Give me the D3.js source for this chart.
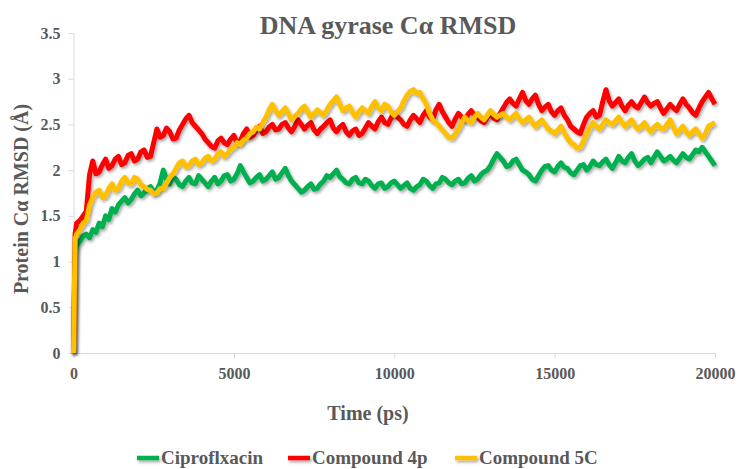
<!DOCTYPE html>
<html>
<head>
<meta charset="utf-8">
<script src="https://cdn.jsdelivr.net/npm/d3@7"></script>
<style>
  body { margin: 0; background: #fff; }
  svg { display: block; }
  .axis text { font-family: "Liberation Serif", "Times New Roman", serif; font-weight: bold; font-size: 16px; fill: #595959; }
  .axis path, .axis line { stroke: #d9d9d9; }
  .lbl { font-family: "Liberation Serif", "Times New Roman", serif; font-weight: bold; fill: #595959; }
</style>
</head>
<body>
<div id="chart"></div>
<script>
// Tempos (ps): 0, 50 e depois a cada 100 ps até 20000
const times = [0, 50, ...d3.range(100, 20001, 100)];

// RMSD (Å)
const cipro = [
  0, 1.10,
  1.18, 1.22, 1.28, 1.30, 1.26, 1.35, 1.32, 1.42, 1.38, 1.50,
  1.46, 1.58, 1.54, 1.62, 1.66, 1.70, 1.64, 1.68, 1.74, 1.78,
  1.72, 1.75, 1.80, 1.82, 1.76, 1.78, 1.86, 2.00, 1.90, 1.85,
  1.92, 1.90, 1.84, 1.82, 1.88, 1.92, 1.86, 1.85, 1.94, 1.90,
  1.86, 1.82, 1.88, 1.92, 1.85, 1.88, 1.94, 1.95, 1.88, 1.90,
  1.96, 2.05, 1.98, 1.92, 1.86, 1.88, 1.92, 1.95, 1.88, 1.90,
  1.94, 1.98, 1.90, 1.92, 1.97, 2.02, 1.94, 1.88, 1.84, 1.80,
  1.76, 1.78, 1.82, 1.85, 1.79, 1.80, 1.85, 1.88, 1.94, 1.92,
  1.96, 2.00, 1.93, 1.90, 1.86, 1.85, 1.90, 1.92, 1.86, 1.85,
  1.90, 1.88, 1.83, 1.80, 1.85, 1.86, 1.80, 1.82, 1.86, 1.88,
  1.84, 1.80, 1.83, 1.86, 1.80, 1.78, 1.82, 1.84, 1.90, 1.88,
  1.83, 1.80, 1.85, 1.86, 1.92, 1.90, 1.86, 1.84, 1.88, 1.90,
  1.85, 1.86, 1.91, 1.94, 1.88, 1.90, 1.95, 1.98, 2.00, 2.05,
  2.12, 2.18, 2.14, 2.10, 2.04, 2.05, 2.10, 2.12, 2.06, 2.00,
  1.98, 1.95, 1.90, 1.88, 1.94, 2.00, 2.04, 2.05, 2.00, 1.98,
  2.04, 2.08, 2.03, 2.02, 1.97, 1.95, 2.00, 2.05, 2.06, 2.00,
  2.04, 2.10, 2.06, 2.05, 2.09, 2.12, 2.06, 2.02, 2.08, 2.15,
  2.10, 2.08, 2.14, 2.18, 2.10, 2.05, 2.08, 2.12, 2.14, 2.08,
  2.14, 2.20, 2.15, 2.10, 2.12, 2.15, 2.11, 2.08, 2.13, 2.18,
  2.14, 2.12, 2.17, 2.22, 2.20, 2.25, 2.20, 2.15, 2.10, 2.05
];

const comp4p = [
  0, 1.30,
  1.42, 1.45, 1.50, 1.55, 1.95, 2.10, 1.96, 1.98, 2.06, 2.12,
  2.02, 2.05, 2.12, 2.15, 2.06, 2.08, 2.16, 2.18, 2.10, 2.12,
  2.20, 2.22, 2.14, 2.15, 2.30, 2.45, 2.36, 2.38, 2.46, 2.42,
  2.34, 2.35, 2.44, 2.50, 2.56, 2.60, 2.52, 2.48, 2.44, 2.40,
  2.34, 2.30, 2.26, 2.24, 2.32, 2.35, 2.30, 2.28, 2.34, 2.38,
  2.30, 2.32, 2.40, 2.45, 2.36, 2.38, 2.44, 2.48, 2.40, 2.42,
  2.47, 2.50, 2.44, 2.45, 2.50, 2.52, 2.46, 2.42, 2.48, 2.55,
  2.50, 2.45, 2.49, 2.52, 2.44, 2.40, 2.45, 2.48, 2.52, 2.55,
  2.46, 2.42, 2.47, 2.50, 2.42, 2.38, 2.43, 2.45, 2.38, 2.40,
  2.46, 2.52, 2.48, 2.45, 2.53, 2.58, 2.52, 2.50, 2.57, 2.62,
  2.58, 2.55, 2.50, 2.48, 2.55, 2.60, 2.56, 2.52, 2.60, 2.65,
  2.58, 2.55, 2.66, 2.72, 2.64, 2.58, 2.52, 2.48, 2.56, 2.62,
  2.58, 2.55, 2.61, 2.65, 2.60, 2.58, 2.54, 2.52, 2.58, 2.62,
  2.57, 2.55, 2.62, 2.68, 2.74, 2.78, 2.73, 2.70, 2.78, 2.85,
  2.76, 2.72, 2.78, 2.82, 2.72, 2.65, 2.69, 2.72, 2.64, 2.60,
  2.65, 2.68, 2.60, 2.55, 2.48, 2.45, 2.42, 2.40, 2.50, 2.58,
  2.62, 2.65, 2.58, 2.60, 2.75, 2.88, 2.76, 2.70, 2.74, 2.78,
  2.70, 2.65, 2.71, 2.75, 2.70, 2.68, 2.74, 2.80, 2.74, 2.70,
  2.73, 2.75, 2.68, 2.62, 2.67, 2.72, 2.68, 2.65, 2.72, 2.78,
  2.72, 2.68, 2.63, 2.60, 2.68, 2.75, 2.80, 2.85, 2.78, 2.72
];

const comp5c = [
  0, 1.25,
  1.30, 1.35, 1.42, 1.45, 1.62, 1.70, 1.76, 1.78, 1.70, 1.72,
  1.80, 1.85, 1.78, 1.80, 1.88, 1.92, 1.86, 1.85, 1.92, 1.90,
  1.84, 1.82, 1.79, 1.78, 1.74, 1.75, 1.80, 1.80, 1.86, 1.92,
  1.96, 2.02, 2.08, 2.10, 2.04, 2.05, 2.10, 2.12, 2.06, 2.08,
  2.13, 2.15, 2.10, 2.12, 2.18, 2.20, 2.15, 2.18, 2.23, 2.25,
  2.30, 2.28, 2.33, 2.35, 2.40, 2.42, 2.47, 2.45, 2.52, 2.58,
  2.66, 2.72, 2.65, 2.60, 2.64, 2.68, 2.62, 2.55, 2.59, 2.62,
  2.67, 2.70, 2.64, 2.58, 2.62, 2.66, 2.63, 2.60, 2.66, 2.72,
  2.76, 2.80, 2.72, 2.65, 2.68, 2.70, 2.63, 2.58, 2.64, 2.68,
  2.65, 2.62, 2.70, 2.75, 2.68, 2.65, 2.72, 2.70, 2.64, 2.60,
  2.64, 2.68, 2.76, 2.82, 2.86, 2.88, 2.84, 2.85, 2.78, 2.72,
  2.62, 2.55, 2.52, 2.48, 2.44, 2.40, 2.36, 2.35, 2.40, 2.45,
  2.52, 2.58, 2.54, 2.52, 2.58, 2.62, 2.58, 2.55, 2.60, 2.65,
  2.61, 2.58, 2.60, 2.62, 2.58, 2.55, 2.59, 2.62, 2.56, 2.52,
  2.55, 2.58, 2.52, 2.48, 2.52, 2.55, 2.50, 2.45, 2.43, 2.40,
  2.44, 2.48, 2.41, 2.35, 2.30, 2.28, 2.24, 2.25, 2.32, 2.40,
  2.47, 2.52, 2.48, 2.45, 2.50, 2.55, 2.52, 2.50, 2.54, 2.58,
  2.52, 2.48, 2.52, 2.55, 2.49, 2.45, 2.48, 2.52, 2.46, 2.42,
  2.47, 2.50, 2.46, 2.45, 2.50, 2.55, 2.47, 2.40, 2.44, 2.48,
  2.42, 2.38, 2.42, 2.45, 2.40, 2.35, 2.40, 2.48, 2.50, 2.52
];

const seriesNames = ["Ciproflxacin", "Compound 4p", "Compound 5C"];
const seriesColors = ["#00b050", "#ff0000", "#ffc000"];
const xTicks = [0, 5000, 10000, 15000, 20000];
const yTicks = [0, 0.5, 1, 1.5, 2, 2.5, 3, 3.5];
const yTickLabels = ["0", "0.5", "1", "1.5", "2", "2.5", "3", "3.5"];

const width = 740, height = 469;

const svg = d3.select("#chart").append("svg")
    .attr("width", width)
    .attr("height", height);

svg.append("rect").attr("width", width).attr("height", height).attr("fill", "#fff");

// Sombra das linhas (estilo Excel)
const defs = svg.append("defs");
defs.append("filter")
    .attr("id", "shadow")
    .attr("filterUnits", "userSpaceOnUse")
    .attr("x", 0).attr("y", 0)
    .attr("width", width).attr("height", height)
  .append("feDropShadow")
    .attr("dx", 1.5).attr("dy", 2)
    .attr("stdDeviation", 1.4)
    .attr("flood-color", "#000")
    .attr("flood-opacity", 0.35);

const x = d3.scaleLinear().domain([0, 20000]).range([73.5, 715]);
const y = d3.scaleLinear().domain([0, 3.5]).range([353, 33]);

// Eixo X
svg.append("g")
    .attr("class", "axis")
    .attr("transform", `translate(0,${y(0)})`)
    .call(d3.axisBottom(x).tickValues(xTicks).tickFormat(d => d).tickSize(5).tickSizeOuter(0).tickPadding(10));

// Eixo Y
svg.append("g")
    .attr("class", "axis")
    .attr("transform", `translate(${x(0)},0)`)
    .call(d3.axisLeft(y).tickValues(yTicks).tickFormat((d, i) => yTickLabels[i]).tickSize(5).tickSizeOuter(0).tickPadding(8))
    .selectAll("text").attr("dy", "0.32em");

// Séries
const allSeries = [cipro, comp4p, comp5c];
const line = d3.line()
    .x((d, i) => x(times[i]))
    .y(d => y(d));

allSeries.forEach((vals, k) => {
    svg.append("path")
        .datum(vals)
        .attr("fill", "none")
        .attr("stroke", seriesColors[k])
        .attr("stroke-width", 5)
        .attr("stroke-linejoin", "round")
        .attr("filter", "url(#shadow)")
        .attr("d", line);
});

// Título
svg.append("text")
    .attr("class", "lbl")
    .attr("x", 388)
    .attr("y", 34)
    .attr("text-anchor", "middle")
    .style("font-size", "26px")
    .text("DNA gyrase Cα RMSD");

// Rótulos dos eixos
svg.append("text")
    .attr("class", "lbl")
    .attr("transform", "translate(28,199) rotate(-90)")
    .attr("text-anchor", "middle")
    .style("font-size", "20px")
    .text("Protein Cα RMSD (Å)");

svg.append("text")
    .attr("class", "lbl")
    .attr("x", 368)
    .attr("y", 420)
    .attr("text-anchor", "middle")
    .style("font-size", "20px")
    .text("Time (ps)");

// Legenda
const legendX = [137, 288, 455];
const legend = svg.append("g");
seriesNames.forEach((name, k) => {
    legend.append("line")
        .attr("x1", legendX[k]).attr("x2", legendX[k] + 22)
        .attr("y1", 458).attr("y2", 458)
        .attr("stroke", seriesColors[k])
        .attr("stroke-width", 4.5)
        .attr("filter", "url(#shadow)");
    legend.append("text")
        .attr("class", "lbl")
        .attr("x", legendX[k] + 24)
        .attr("y", 464)
        .style("font-size", "19px")
        .text(name);
});
</script>
</body>
</html>
